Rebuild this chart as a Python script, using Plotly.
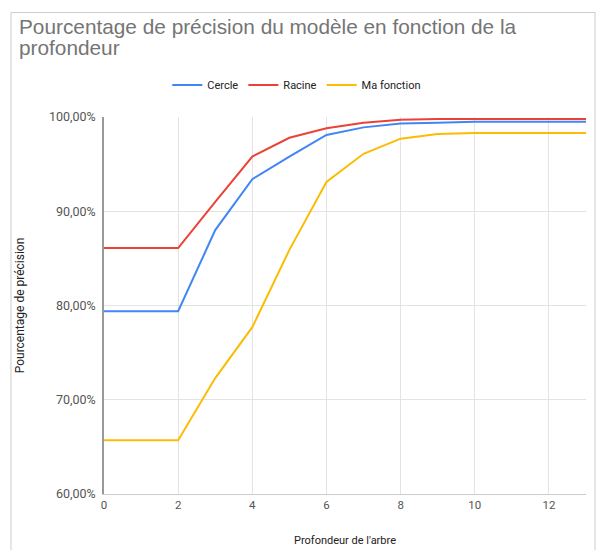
import plotly.graph_objects as go

profondeur = list(range(0, 14))
cercle = [0.794, 0.794, 0.794, 0.880, 0.934, 0.958, 0.981, 0.989, 0.993, 0.994, 0.995, 0.995, 0.995, 0.995]
racine = [0.861, 0.861, 0.861, 0.910, 0.958, 0.978, 0.988, 0.994, 0.997, 0.998, 0.998, 0.998, 0.998, 0.998]
ma_fonction = [0.657, 0.657, 0.657, 0.723, 0.777, 0.859, 0.931, 0.961, 0.977, 0.982, 0.983, 0.983, 0.983, 0.983]

title_lines = ["Pourcentage de précision du modèle en fonction de la", "profondeur"]

series = [("Cercle", cercle, "#4285F4"), ("Racine", racine, "#EA4335"), ("Ma fonction", ma_fonction, "#FBBC04")]

fig = go.Figure()
for name, vals, col in series:
    fig.add_trace(go.Scatter(x=profondeur, y=vals, name=name, mode="lines",
                             line=dict(color=col, width=2)))

font = "Roboto, Arial, sans-serif"
tfont = "Arial, Liberation Sans, sans-serif"

annotations = []
for i, line in enumerate(title_lines):
    annotations.append(dict(text=line, xref="paper", yref="paper", x=-0.1805, xanchor="left",
                            y=(494 - (27 + 21 * i)) / 377, yanchor="middle", showarrow=False,
                            font=dict(size=20.8, color="#757575", family=tfont)))

fig.update_layout(
    width=606, height=550,
    margin=dict(l=96, r=28, t=109, b=64),
    paper_bgcolor="white", plot_bgcolor="white",
    separators=", ",
    font=dict(family=font, size=11, color="#555555"),
    annotations=annotations,
    legend=dict(orientation="h", x=0.40, xanchor="center", y=1.085, yanchor="middle",
                font=dict(size=11, color="#222222"), itemwidth=30),
    xaxis=dict(range=[0, 13], tickvals=[0, 2, 4, 6, 8, 10, 12], showgrid=True,
               gridcolor="#e3e3e3", zeroline=False, showline=True, linecolor="#cccccc",
               tickfont=dict(size=11.5, color="#555555"),
               title=dict(text="Profondeur de l'arbre", font=dict(size=11, color="#222222"), standoff=25)),
    yaxis=dict(range=[0.6, 1.0], tickvals=[0.6, 0.7, 0.8, 0.9, 1.0], tickformat=".2%",
               showgrid=True, gridcolor="#e3e3e3", zeroline=False, showline=True,
               linecolor="#999999", linewidth=1.5,
               tickfont=dict(size=12.5, color="#555555"), ticks="", ticklabelstandoff=4,
               title=dict(text="Pourcentage de précision", font=dict(size=12, color="#222222"), standoff=22)),
    shapes=[dict(type="rect", xref="paper", yref="paper", x0=-0.193, x1=1.0187, y0=-0.2, y1=1.277,
                 line=dict(color="#cccccc", width=1), fillcolor="rgba(0,0,0,0)", layer="below")],
)

fig.write_html("out.html")
